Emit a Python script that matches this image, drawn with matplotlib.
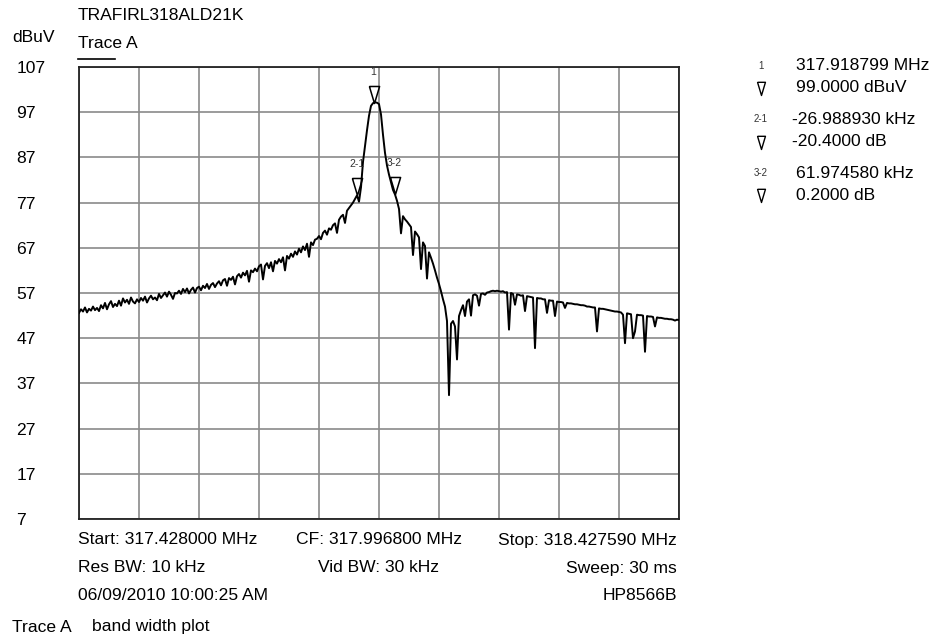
import numpy as np
import matplotlib.pyplot as plt
from matplotlib.lines import Line2D

plt.rcParams['font.family'] = ['Liberation Sans', 'DejaVu Sans']

# instrument settings
start_mhz = 317.428000
stop_mhz = 318.427590
ref_top = 107
ref_bottom = 7
db_per_div = 10

# trace A, 301 points from start to stop (dBuV)
trace_level = [
    52.6, 53.4, 52.9, 53.8, 52.7, 53.5, 53.1, 54.0, 53.2, 53.7,
    53.0, 54.3, 53.6, 54.8, 53.4, 54.5, 55.2, 53.9, 54.6, 54.1,
    55.3, 54.2, 55.8, 54.9, 55.5, 54.6, 56.0, 55.1, 54.7, 55.6,
    55.0, 55.9, 55.3, 56.2, 54.9, 55.8, 56.4, 55.6, 56.0, 55.4,
    56.8, 55.9, 56.5, 57.1, 56.2, 57.3, 56.6, 55.7, 57.0, 56.9,
    57.5, 56.8, 57.9, 57.2, 58.0, 56.9, 57.7, 58.2, 57.1, 58.1,
    58.4, 57.6, 58.6, 58.1, 59.0, 57.9, 58.8, 59.2, 58.3, 59.1,
    59.6, 58.7, 59.8, 60.1, 58.6, 60.3, 59.9, 60.6, 58.9, 60.7,
    61.2, 60.4, 61.5, 60.9, 61.9, 59.5, 62.0, 61.6, 62.4, 61.8,
    62.9, 63.3, 60.0, 63.0, 63.6, 62.5, 63.8, 61.8, 64.1, 63.5,
    64.5, 63.8, 64.9, 62.0, 65.2, 64.6, 65.7, 65.0, 66.2, 65.5,
    66.8, 66.0, 67.3, 66.5, 67.9, 65.0, 68.2, 67.6, 68.8, 69.0,
    69.6, 68.9, 70.3, 70.8, 69.9, 71.3, 71.0, 72.0, 72.4, 70.3,
    73.2, 73.9, 74.3, 72.5, 75.2, 75.8, 76.4, 77.0, 77.8, 78.6,
    77.2, 80.4, 86.0, 89.5, 93.0, 96.2, 98.4, 99.0, 99.2, 99.1,
    98.8, 96.5, 92.0, 88.0, 85.2, 83.2, 81.5, 79.8, 78.8, 77.4,
    75.6, 70.2, 74.0, 73.3, 72.8, 72.2, 71.6, 65.4, 70.6, 70.0,
    69.3, 62.3, 68.2, 67.4, 60.2, 66.0, 64.8, 63.5, 62.0, 60.4,
    59.0, 57.4, 55.6, 54.0, 50.8, 34.4, 50.2, 50.8, 49.6, 42.3,
    51.9, 53.2, 54.3, 51.9, 55.1, 55.6, 52.0, 56.5, 56.7, 56.4,
    54.2, 56.8, 56.9, 56.6, 57.1, 57.2, 57.4, 57.5, 57.4, 57.5,
    57.4, 57.3, 57.4, 57.1, 57.2, 48.9, 57.0, 56.8, 54.4, 56.7,
    56.6, 56.4, 56.5, 53.0, 56.3, 56.2, 56.1, 56.0, 44.8, 55.9,
    55.8, 55.8, 55.6, 55.6, 52.6, 55.4, 55.3, 55.3, 51.9, 55.1,
    55.0, 55.0, 54.9, 53.7, 54.8, 54.7, 54.7, 54.6, 54.5, 54.5,
    54.4, 54.3, 54.3, 54.2, 54.0, 54.0, 53.9, 53.8, 53.8, 48.5,
    53.6, 53.5, 53.5, 53.4, 53.3, 53.2, 53.1, 53.0, 52.9, 52.9,
    52.8, 52.7, 52.2, 45.9, 52.5, 52.4, 52.3, 47.0, 48.5, 52.2,
    52.1, 52.1, 52.0, 44.0, 51.9, 51.8, 51.8, 51.7, 49.6, 51.6,
    51.5, 51.5, 51.4, 51.3, 51.3, 51.2, 51.2, 51.1, 50.9, 51.1,
    51.0,
]
trace_freq = np.linspace(start_mhz, stop_mhz, len(trace_level))

# marker readouts
marker_names = ['1', '2-1', '3-2']
m1_freq = 317.918799
m1_level = 99.0
delta_khz = [-26.988930, 61.974580]
delta_db = [-20.4, 0.2]

marker_freq = [m1_freq,
               m1_freq + delta_khz[0] / 1000,
               m1_freq + (delta_khz[0] + delta_khz[1]) / 1000]
marker_level = [m1_level,
                m1_level + delta_db[0],
                m1_level + delta_db[0] + delta_db[1]]

FS = 12.6
W, H = 934, 639
fig = plt.figure(figsize=(W / 100, H / 100), dpi=100)
ax = fig.add_axes([79 / W, 1 - 519 / H, 600 / W, 452 / H])

ax.set_xlim(start_mhz, stop_mhz)
ax.set_ylim(ref_bottom, ref_top)
ax.set_xticks(np.linspace(start_mhz, stop_mhz, 11))
ax.set_xticklabels([])
yt = np.arange(ref_bottom, ref_top + 1, db_per_div)
ax.set_yticks(yt)
ax.set_yticklabels([str(v) for v in yt], ha='left')
ax.tick_params(axis='both', length=0)
ax.tick_params(axis='y', pad=45, labelsize=FS)
ax.grid(True, color='#8a8a8a', lw=1.2)
ax.set_axisbelow(True)
for s in ax.spines.values():
    s.set_color('#222222')
    s.set_linewidth(1.3)

ax.plot(trace_freq, trace_level, color='black', lw=1.4, zorder=3)

tri = [(-0.3, 1.0), (0.3, 1.0), (0.0, 0.0), (-0.3, 1.0)]
ax.plot(marker_freq, marker_level, ls='none', marker=tri, ms=24.5,
        mfc='none', mec='black', mew=1.1, zorder=4, clip_on=False)
for name, f, lv in zip(marker_names, marker_freq, marker_level):
    ax.annotate(name, (f, lv), xytext=(0, 22.5), textcoords='offset points',
                ha='center', va='center', fontsize=7.5, color='#333333')

# header texts
def px(x, y):
    return x / W, 1 - y / H

fig.text(*px(78, 16), 'TRAFIRL318ALD21K', fontsize=FS, va='center')
fig.text(*px(12, 38), 'dBuV', fontsize=FS, va='center')
fig.text(*px(78, 43), 'Trace A', fontsize=FS, va='center')
fig.add_artist(Line2D([78 / W, 115 / W], [1 - 59 / H, 1 - 59 / H],
                      transform=fig.transFigure, color='black', lw=1.2))

# marker readout block
readout = [
    (marker_names[0], f'{m1_freq:.6f} MHz', f'{m1_level:.4f} dBuV', 66, 88),
    (marker_names[1], f'{delta_khz[0]:.6f} kHz', f'{delta_db[0]:.4f} dB', 119, 142),
    (marker_names[2], f'{delta_khz[1]:.6f} kHz', f'{delta_db[1]:.4f} dB', 173, 195),
]
for name, l1, l2, y1, y2 in readout:
    fig.text(*px(761, y1), name, fontsize=7, ha='center', va='center', color='#333333')
    fig.add_artist(Line2D([761 / W], [1 - (y2 + 7) / H], transform=fig.transFigure,
                          marker=tri, ms=19, mfc='none', mec='black', mew=1.0, ls='none'))
    x1 = 796 if not l1.startswith('-') else 792
    x2 = 796 if not l2.startswith('-') else 792
    fig.text(*px(x1, y1), l1, fontsize=FS, va='center')
    fig.text(*px(x2, y2), l2, fontsize=FS, va='center')

# footer texts
fig.text(*px(78, 540), f'Start: {start_mhz:.6f} MHz', fontsize=FS, va='center')
fig.text(*px(379, 540), 'CF: 317.996800 MHz', fontsize=FS, va='center', ha='center')
fig.text(*px(677, 540), f'Stop: {stop_mhz:.6f} MHz', fontsize=FS, va='center', ha='right')
fig.text(*px(78, 568), 'Res BW: 10 kHz', fontsize=FS, va='center')
fig.text(*px(379, 568), 'Vid BW: 30 kHz', fontsize=FS, va='center', ha='center')
fig.text(*px(677, 568), 'Sweep: 30 ms', fontsize=FS, va='center', ha='right')
fig.text(*px(78, 595), '06/09/2010 10:00:25 AM', fontsize=FS, va='center')
fig.text(*px(677, 595), 'HP8566B', fontsize=FS, va='center', ha='right')
fig.text(*px(12, 627), 'Trace A', fontsize=FS, va='center')
fig.text(*px(92, 627), 'band width plot', fontsize=FS, va='center')

fig.savefig('out.png', dpi=100)
